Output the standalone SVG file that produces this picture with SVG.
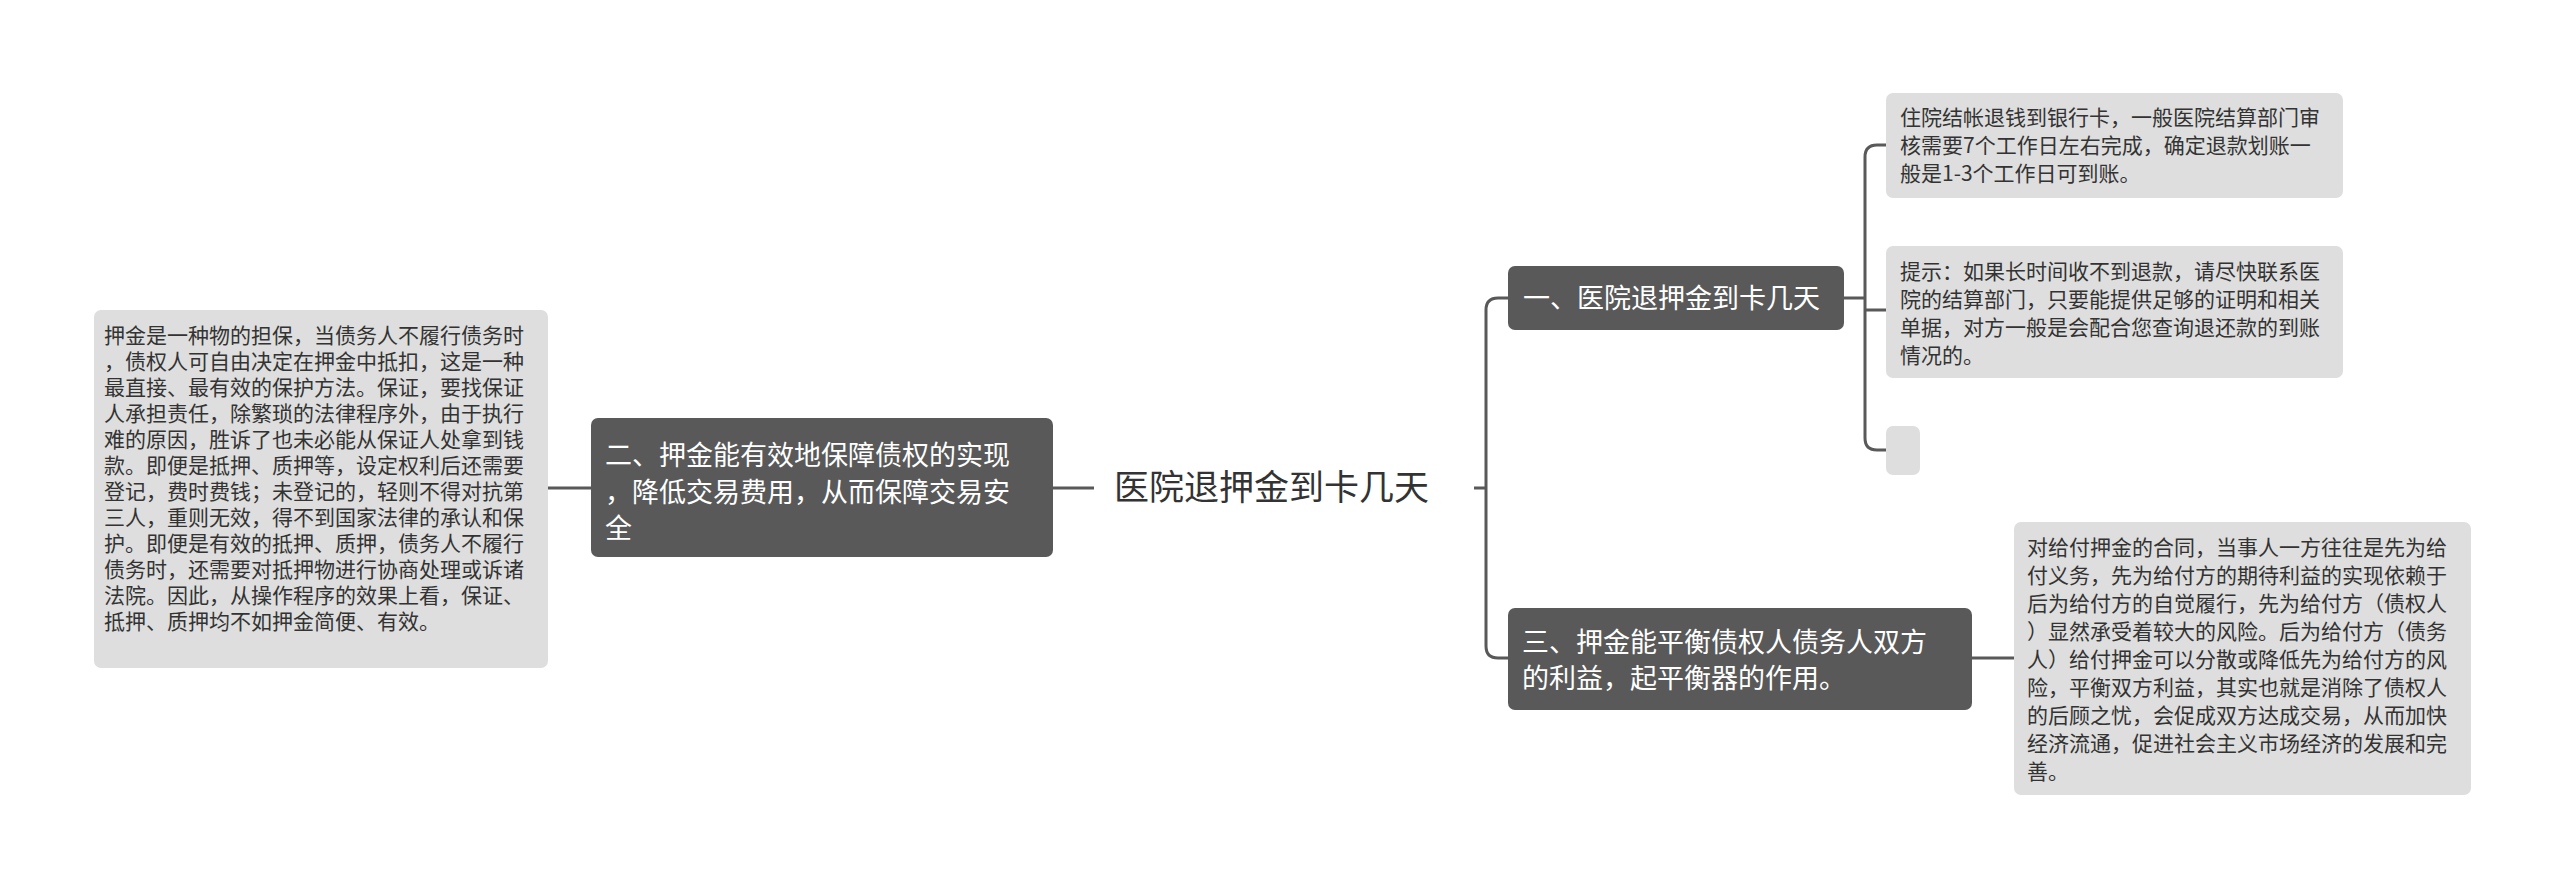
<svg xmlns="http://www.w3.org/2000/svg" width="2560" height="889" viewBox="0 0 2560 889">
<style>
.n{fill:#595959}
.l{fill:#dedede}
.tn{font-family:"Noto Sans CJK SC","Liberation Sans",sans-serif;font-size:27px;fill:#fff}
.tl{font-family:"Noto Sans CJK SC","Liberation Sans",sans-serif;font-size:21px;fill:#333}
.tr{font-family:"Noto Sans CJK SC","Liberation Sans",sans-serif;font-size:35px;fill:#333}
.c{fill:none;stroke:#595959;stroke-width:3}
</style>
<rect width="2560" height="889" fill="#fff"/>
<g id="connectors">
<path class="c" d="M1474,488 H1486 M1508,298 H1498 Q1486,298 1486,310 V646 Q1486,658 1498,658 H1508"/>
<path class="c" d="M1844,298 H1865 M1886,145 H1877 Q1865,145 1865,157 V438 Q1865,450 1877,450 H1886 M1865,310 H1886"/>
<path class="c" d="M1972,658 H2014"/>
<path class="c" d="M1053,488 H1094 M548,488 H591"/>
</g>
<g id="root"><text class="tr" x="1114" y="500">医院退押金到卡几天</text></g>
<g id="n1"><rect class="n" x="1508" y="266" width="336" height="64" rx="7"/>
<text class="tn" x="1523" y="308">一、医院退押金到卡几天</text></g>
<g id="l1"><rect class="l" x="1886" y="93" width="457" height="105" rx="7"/>
<text class="tl"><tspan x="1900" y="125">住院结帐退钱到银行卡，一般医院结算部门审</tspan><tspan x="1900" y="153">核需要7个工作日左右完成，确定退款划账一</tspan><tspan x="1900" y="181">般是1-3个工作日可到账。</tspan></text></g>
<g id="l2"><rect class="l" x="1886" y="246" width="457" height="132" rx="7"/>
<text class="tl"><tspan x="1900" y="279">提示：如果长时间收不到退款，请尽快联系医</tspan><tspan x="1900" y="307">院的结算部门，只要能提供足够的证明和相关</tspan><tspan x="1900" y="335">单据，对方一般是会配合您查询退还款的到账</tspan><tspan x="1900" y="363">情况的。</tspan></text></g>
<g id="l3"><rect class="l" x="1886" y="426" width="34" height="49" rx="7"/></g>
<g id="n3"><rect class="n" x="1508" y="608" width="464" height="102" rx="7"/>
<text class="tn"><tspan x="1522" y="652">三、押金能平衡债权人债务人双方</tspan><tspan x="1522" y="688">的利益，起平衡器的作用。</tspan></text></g>
<g id="l4"><rect class="l" x="2014" y="522" width="457" height="273" rx="7"/>
<text class="tl"><tspan x="2027" y="555">对给付押金的合同，当事人一方往往是先为给</tspan><tspan x="2027" y="583">付义务，先为给付方的期待利益的实现依赖于</tspan><tspan x="2027" y="611">后为给付方的自觉履行，先为给付方（债权人</tspan><tspan x="2027" y="639">）显然承受着较大的风险。后为给付方（债务</tspan><tspan x="2027" y="667">人）给付押金可以分散或降低先为给付方的风</tspan><tspan x="2027" y="695">险，平衡双方利益，其实也就是消除了债权人</tspan><tspan x="2027" y="723">的后顾之忧，会促成双方达成交易，从而加快</tspan><tspan x="2027" y="751">经济流通，促进社会主义市场经济的发展和完</tspan><tspan x="2027" y="779">善。</tspan></text></g>
<g id="n2"><rect class="n" x="591" y="418" width="462" height="139" rx="7"/>
<text class="tn"><tspan x="605" y="465">二、押金能有效地保障债权的实现</tspan><tspan x="605" y="502">，降低交易费用，从而保障交易安</tspan><tspan x="605" y="538">全</tspan></text></g>
<g id="l0"><rect class="l" x="94" y="310" width="454" height="358" rx="7"/>
<text class="tl"><tspan x="104" y="343">押金是一种物的担保，当债务人不履行债务时</tspan><tspan x="104" y="369">，债权人可自由决定在押金中抵扣，这是一种</tspan><tspan x="104" y="395">最直接、最有效的保护方法。保证，要找保证</tspan><tspan x="104" y="421">人承担责任，除繁琐的法律程序外，由于执行</tspan><tspan x="104" y="447">难的原因，胜诉了也未必能从保证人处拿到钱</tspan><tspan x="104" y="473">款。即便是抵押、质押等，设定权利后还需要</tspan><tspan x="104" y="499">登记，费时费钱；未登记的，轻则不得对抗第</tspan><tspan x="104" y="525">三人，重则无效，得不到国家法律的承认和保</tspan><tspan x="104" y="551">护。即便是有效的抵押、质押，债务人不履行</tspan><tspan x="104" y="577">债务时，还需要对抵押物进行协商处理或诉诸</tspan><tspan x="104" y="603">法院。因此，从操作程序的效果上看，保证、</tspan><tspan x="104" y="629">抵押、质押均不如押金简便、有效。</tspan></text></g>
</svg>
